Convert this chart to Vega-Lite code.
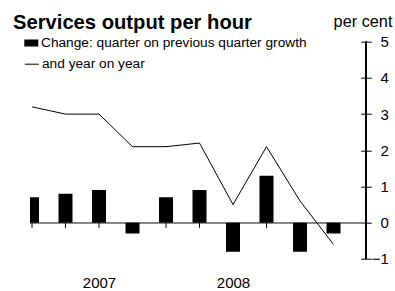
{
  "$schema": "https://vega.github.io/schema/vega-lite/v6.json",
  "width": 336,
  "height": 217.2,
  "autosize": {"type": "none"},
  "padding": {"left": 30, "top": 41.7, "right": 29, "bottom": 32.1},
  "title": {
    "text": "Services output per hour",
    "anchor": "start",
    "frame": "group",
    "dx": -17,
    "dy": 49.5,
    "offset": 14,
    "baseline": "alphabetic",
    "font": "Liberation Sans",
    "fontSize": 20.2,
    "fontWeight": "bold",
    "color": "black"
  },
  "data": {
    "values": [
      {"idx": 0, "change": 0.7, "yoy": 3.2},
      {"idx": 1, "change": 0.8, "yoy": 3.0},
      {"idx": 2, "change": 0.9, "yoy": 3.0},
      {"idx": 3, "change": -0.3, "yoy": 2.1},
      {"idx": 4, "change": 0.7, "yoy": 2.1},
      {"idx": 5, "change": 0.9, "yoy": 2.2},
      {"idx": 6, "change": -0.8, "yoy": 0.5},
      {"idx": 7, "change": 1.3, "yoy": 2.1},
      {"idx": 8, "change": -0.8, "yoy": 0.6},
      {"idx": 9, "change": -0.3, "yoy": -0.6}
    ]
  },
  "layer": [
    {
      "mark": {"type": "rule", "color": "#808080", "strokeWidth": 1},
      "encoding": {
        "y": {
          "datum": 0,
          "type": "quantitative",
          "scale": {"domain": [-1, 5], "nice": false},
          "axis": {
            "orient": "right",
            "title": "per cent",
            "values": [-1, 0, 1, 2, 3, 4, 5],
            "tickCount": 7,
            "offset": -5.3,
            "domain": false,
            "tickSize": 10.6,
            "tickColor": "black",
            "labelAlign": "right",
            "labelBaseline": "middle",
            "labelOverlap": false,
            "labelPadding": 17,
            "labelFontSize": 15,
            "labelFont": "Liberation Sans",
            "labelColor": "black",
            "grid": false,
            "titleAngle": 0,
            "titleX": 1.8,
            "titleY": -15.2,
            "titleAlign": "center",
            "titleBaseline": "alphabetic",
            "titleFontSize": 16.3,
            "titleFontWeight": "normal",
            "titleFont": "Liberation Sans",
            "titleColor": "black"
          }
        }
      }
    },
    {
      "mark": {"type": "rule", "color": "black", "strokeWidth": 1},
      "encoding": {
        "x": {
          "field": "idx",
          "type": "quantitative",
          "scale": {"domain": [-0.06, 9.97], "nice": false, "zero": false, "padding": 0},
          "axis": {
            "values": [2, 6],
            "labelExpr": "datum.value == 2 ? '2007' : '2008'",
            "domain": false,
            "ticks": false,
            "grid": false,
            "title": null,
            "labelFontSize": 15,
            "labelPadding": 16.5,
            "labelColor": "black",
            "labelFont": "Liberation Sans"
          }
        },
        "y": {"datum": 0, "type": "quantitative"},
        "y2": {"datum": -0.14}
      }
    },
    {
      "mark": {"type": "bar", "size": 14, "clip": true},
      "encoding": {
        "x": {"field": "idx", "type": "quantitative"},
        "y": {"field": "change", "type": "quantitative", "title": "per cent"},
        "fill": {
          "datum": "Change: quarter on previous quarter growth",
          "scale": {"range": ["black"]},
          "legend": {
            "orient": "none",
            "legendX": -5.7,
            "legendY": -5.7,
            "title": null,
            "symbolType": "M-1,-0.5H1V0.5H-1Z",
            "symbolSize": 196,
            "symbolStrokeWidth": 0,
            "labelOffset": 2.7,
            "labelLimit": 400,
            "labelFontSize": 13.7,
            "labelFont": "Liberation Sans",
            "labelColor": "black",
            "padding": 0
          }
        }
      }
    },
    {
      "mark": {"type": "line", "strokeWidth": 1},
      "encoding": {
        "x": {"field": "idx", "type": "quantitative"},
        "y": {"field": "yoy", "type": "quantitative", "title": "per cent"},
        "stroke": {
          "datum": "and year on year",
          "scale": {"range": ["black"]},
          "legend": {
            "orient": "none",
            "legendX": -5.7,
            "legendY": 15,
            "title": null,
            "symbolType": "stroke",
            "symbolSize": 196,
            "symbolStrokeWidth": 1,
            "labelOffset": 2.7,
            "labelLimit": 400,
            "labelFontSize": 13.7,
            "labelFont": "Liberation Sans",
            "labelColor": "black",
            "padding": 0
          }
        }
      }
    },
    {
      "mark": {"type": "rule", "color": "black", "strokeWidth": 1},
      "encoding": {
        "x": {"value": "width"},
        "y": {"datum": -1, "type": "quantitative"},
        "y2": {"datum": 5}
      }
    }
  ],
  "config": {
    "view": {"stroke": null},
    "font": "Liberation Sans"
  }
}
